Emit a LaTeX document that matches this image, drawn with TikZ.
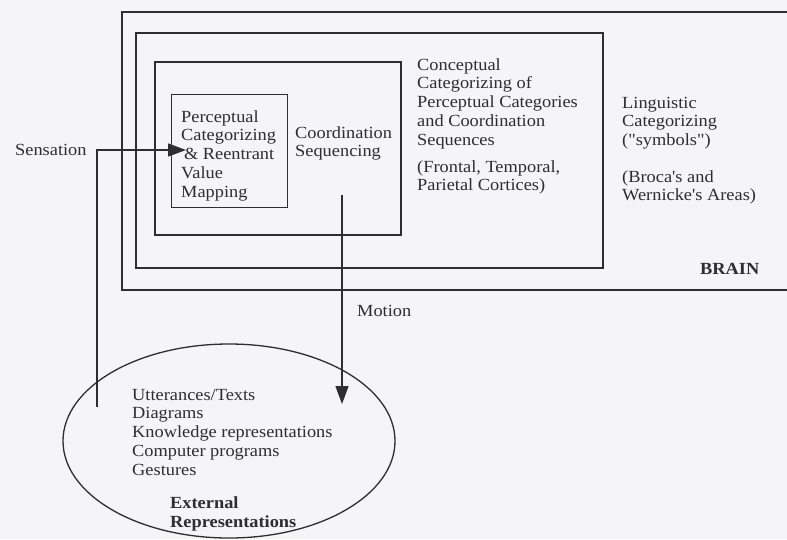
\documentclass[tikz,border=0pt]{standalone}
\usepackage{fontspec}
% TeX ligatures off so that quotes and apostrophes stay straight
\setmainfont{Liberation Serif}[FakeStretch=1.08, Ligatures=TeXOff]
\usetikzlibrary{arrows.meta,shapes.geometric}
\definecolor{paper}{RGB}{245,245,247}
\definecolor{ink}{RGB}{45,45,50}
\tikzset{
  frame/.style={draw=ink, line width=1.3pt},
  % multi-line labels are placed by the baseline of their last line
  label/.style={text=ink, inner sep=0pt, anchor=base west, align=left,
    font=\fontsize{17}{18.8}\selectfont},
  heading/.style={label, font=\fontsize{17}{18.8}\selectfont\bfseries},
  flow/.style={draw=ink, line width=1.3pt, -{Triangle[length=18pt,width=13pt]}}
}
\begin{document}
\begin{tikzpicture}[x=1pt, y=-1pt]
  \path[fill=paper] (0,0) rectangle (787,539);
  \useasboundingbox (0,0) rectangle (787,539);

  % nested regions of the brain
  \draw[frame] (787,12) -- (122,12) -- (122,290) -- (787,290);
  \draw[frame] (136,33) rectangle (603,268);
  \draw[frame] (155,62) rectangle (401,235);
  \node[frame, anchor=north west, minimum width=116pt, minimum height=113pt, inner sep=0pt] (pc) at (171,94) {};

  \node[label] (pctext) at (181,197.2) {Perceptual\\Categorizing\\\,\& Reentrant\\Value\\Mapping};
  \node[label] (coord) at (295,156.8) {Coordination\\Sequencing};
  \node[label] (concept) at (417,145.2) {Conceptual\\Categorizing of\\Perceptual Categories\\and Coordination\\Sequences};
  \node[label] (cortex) at (417,190.8) {(Frontal, Temporal,\\Parietal Cortices)};
  \node[label] (ling) at (622,145.6) {Linguistic\\Categorizing\\("symbols")};
  \node[label] (areas) at (622,200.8) {(Broca's and\\Wernicke's Areas)};
  \node[heading] (brain) at (700,274) {BRAIN};

  % external representations
  \node[draw=ink, line width=1.3pt, ellipse, minimum width=332pt, minimum height=194pt, inner sep=0pt] (ext) at (229,441) {};
  \node[label] (extlist) at (132,475.2) {Utterances/Texts\\Diagrams\\Knowledge representations\\Computer programs\\Gestures};
  \node[heading] (exttitle) at (170,527) {External\\Representations};

  % sensation and motion
  \node[label] (sens) at (15,155) {Sensation};
  \node[label] (motion) at (357,316) {Motion};
  \coordinate (sensfrom) at (97,407);
  \coordinate (sensto) at (186,150);
  \coordinate (motfrom) at (342,195);
  \coordinate (motto) at (342,404);
  \draw[flow] (sensfrom) |- (sensto);
  \draw[flow] (motfrom) -- (motto);
\end{tikzpicture}
\end{document}
